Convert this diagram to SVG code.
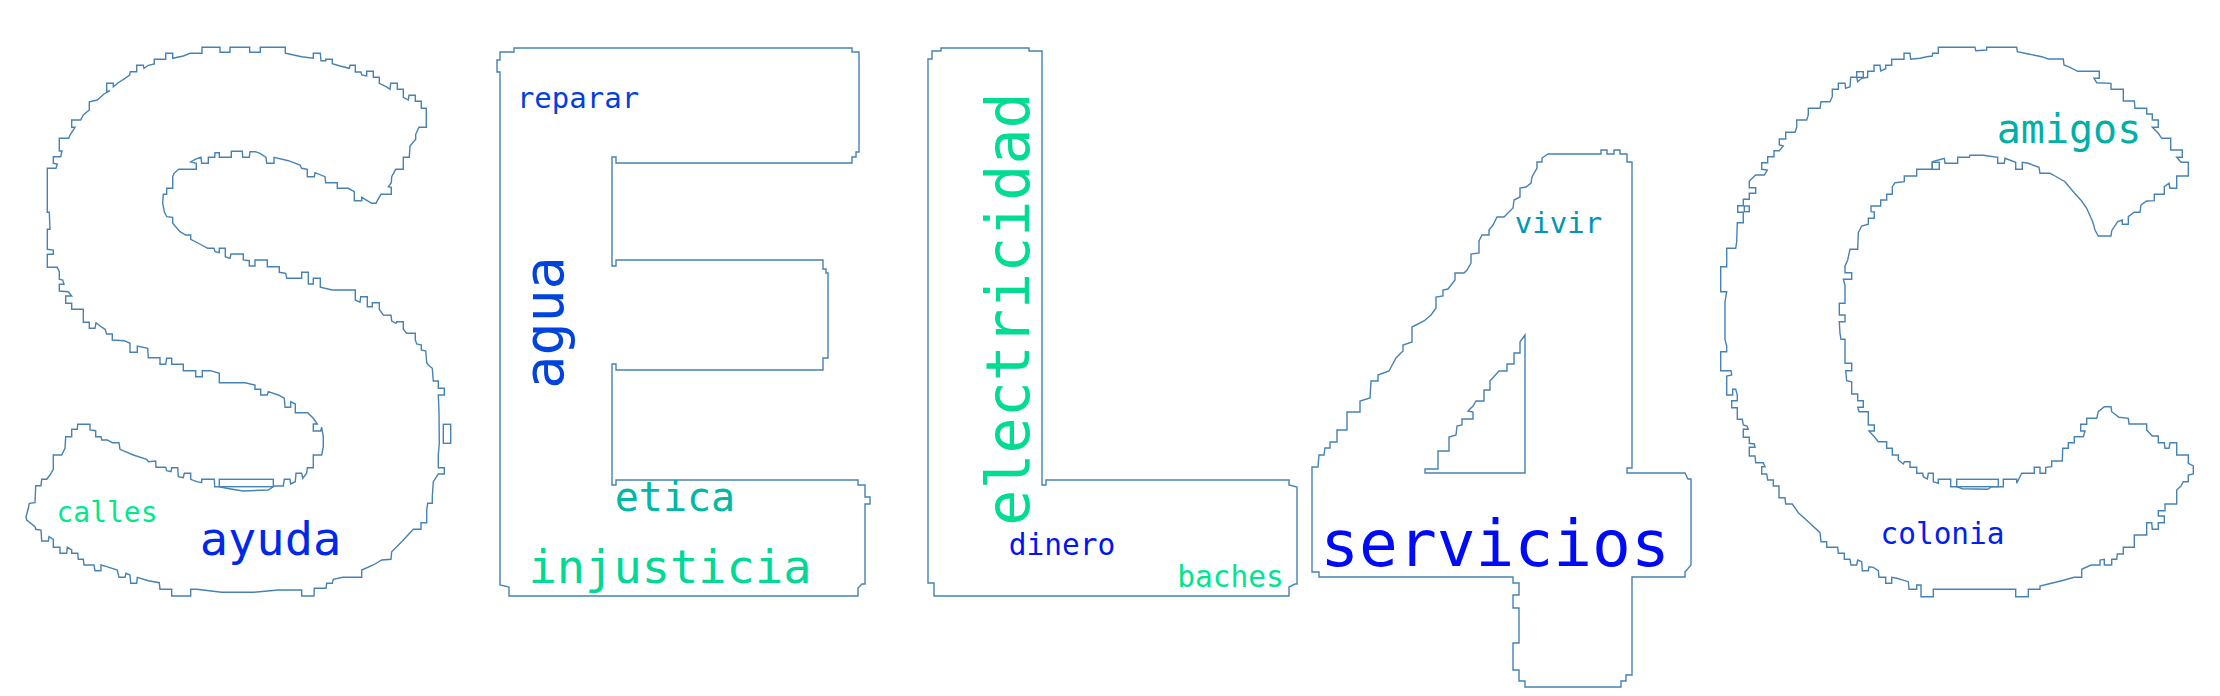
<svg xmlns="http://www.w3.org/2000/svg" width="2220" height="696" viewBox="0 0 2220 696">
<style>
.o{fill:none;stroke:#4682b4;stroke-width:1.4;stroke-linejoin:miter}
.w{font-family:"DejaVu Sans Mono","Liberation Mono",monospace;text-anchor:middle}
</style>
<rect x="0" y="0" width="2220" height="696" fill="#ffffff"/>
<g id="letter-S">
<path class="o" d="M202,47.3 L220,47.3 L220,52.3 L230,52.3 L230,47.3 L249.7,47.3 L249.7,52.3 L260.3,52.3 L260.3,47.3 L285.3,47.3 L285.3,53.3 L290.3,54.3 L301.7,56.7 L313.3,58.3 L313.3,53.3 L320.3,53.3 L321,60.7 L325.7,60.7 L325.7,59.3 L332.3,59.3 L332.3,63.7 L340,66 L349.3,68.3 L350,65.3 L355.3,65.3 L355.3,72 L361,72 L361.7,75 L366.7,76 L366.7,71.3 L373.3,71.3 L373.3,77.3 L379.3,77.3 L379.3,83.3 L386,86.7 L390,89.3 L390.7,83.3 L397.3,83.3 L397.3,89.3 L403.3,89.3 L403.3,97.3 L408.3,100 L409,95.3 L415.3,95.3 L415.3,101.3 L421.3,101.3 L421.3,108.3 L426.3,108.3 L426.3,127.3 L419,127.3 L415.7,134.3 L415.7,139.3 L410,146 L409.3,157.3 L403.3,157.3 L403.3,169.3 L395.7,169.3 L391.7,176.7 L391.3,182.7 L388.3,186.7 L391.3,187.3 L391.3,194.3 L381,194.3 L377.3,200.7 L376,203.3 L371.7,203.3 L361.7,197.3 L361.7,200.7 L354.3,200.7 L354.3,191.7 L348.3,188.3 L337.3,188.3 L337.3,182.7 L325.7,182.7 L325,176.7 L315,172.7 L314.3,176.7 L307.3,176.7 L307.3,169.3 L301.7,168.3 L300,165 L288.3,160.7 L274,157.3 L274,163.3 L266.7,163.3 L266,157.3 L260,153.3 L255.3,151.7 L250,151.7 L249.3,157.3 L242.7,157.3 L242.3,151.3 L231.3,151.3 L231.3,157.3 L219.3,157.3 L219.3,152.7 L215,152.7 L214.7,157.3 L208.3,157.3 L208.3,163.3 L201.7,163.3 L201,157.3 L195,159.3 L190.7,162 L196.3,163.3 L196.3,169.3 L178.7,169.3 L174,173.3 L172.7,176.7 L172.7,188.3 L166.7,188.3 L166.7,194.3 L163.3,194.3 L162.7,203.3 L164.3,211.7 L166.7,216.7 L172.7,217.3 L172.7,223.3 L180,231.7 L185.7,235 L190.7,235 L190.7,239.3 L201.7,245 L207.7,248.3 L214,248.3 L215,251.7 L219.3,252.7 L219.3,248.3 L225.3,248.3 L225.3,256.7 L230,258.3 L231,254 L243.3,254 L243.3,260 L249.3,260.7 L249.3,266 L255,266 L255,260 L267.3,260 L267.3,266.7 L279.3,266.7 L279.3,272.3 L285.7,273.3 L286.7,278.3 L301.7,278.3 L301.7,272.3 L308.3,272.3 L308.3,284 L313.3,284 L313.3,278.3 L320.3,278.3 L320.3,287.3 L332.3,290 L355.3,290 L355.3,300 L360,302.3 L360.7,296.7 L367.3,296.7 L367.3,306.7 L372.3,306.7 L372.3,302.7 L379.3,302.7 L379.3,309.3 L383.3,315 L391,315.3 L391.7,321 L396,323.3 L396.7,321.7 L403.3,321.7 L403.3,329.3 L406.7,333.3 L415.3,333.3 L415.3,340 L416.7,344 L421.3,345 L421.3,350 L425.7,351 L426.7,362.7 L428.3,365 L432.3,368.3 L433.3,381 L438.3,381 L438.3,388.3 L444.3,388.3 L444.3,395 L438.3,395 L439,411.7 L439.3,443.3 L438.3,455 L438.3,467.7 L444.3,467.7 L444.3,474 L438.3,474 L433.3,481.7 L432.3,496.7 L432.3,503.3 L427.7,503.3 L426.7,510 L426.7,522.7 L421,522.7 L421,529.3 L413.3,529.3 L401.7,541.7 L391.7,551.7 L391,559.3 L381.7,560 L373.3,565 L361.7,570 L361.7,577.3 L342.7,577.3 L333.3,579.3 L332.3,583.3 L326.7,583.3 L326,588.3 L314.3,588.3 L314,596 L301.7,596 L301.7,590 L278.3,590 L253.3,592.3 L221.7,592.3 L196.7,589.3 L190.7,589.3 L190.7,596 L171.7,596 L171.7,589.3 L160,589.3 L159.3,582.7 L148.3,580.7 L137.3,577.3 L136.7,583.3 L130.7,583.3 L130,575 L126,573.3 L125,577.3 L119,577.3 L117.3,570 L106.7,566.7 L101,565 L101,570.7 L95,570.7 L94,565 L84,565 L83.3,559.3 L78.3,559.3 L77.7,553.3 L71.7,553.3 L71.7,550 L67.3,547.3 L66.7,553.3 L60,553.3 L60,547.3 L53.3,547.3 L53.3,539.3 L49,536.7 L48.3,541 L41.7,541 L41,530 L35.7,529.3 L35,526.7 L26.7,520 L26,516.7 L28.3,508.3 L29.3,503.3 L35,502.7 L35.7,485.7 L41,485.7 L41.7,479.3 L46.7,479.3 L50,475 L53.3,469.3 L53.3,455 L61.7,455 L65,448.3 L65.7,436.7 L71.7,436.7 L71.7,429.3 L77.3,429.3 L77.7,424.3 L90,424.3 L90,430 L95.7,430.7 L95.7,436.7 L101,436.7 L101.7,440 L107.3,440 L112.3,442.7 L119,442.7 L120,449.3 L133.3,455 L146.7,459.3 L148.3,461.7 L155.7,461 L156,467.3 L165.7,467.3 L166.7,470.7 L171,471.7 L171.7,467.7 L177.7,467.7 L178.3,476.7 L183.3,477.7 L184.3,473.3 L190.7,473.3 L190.7,479.3 L196.7,481.7 L201.7,482.7 L201.7,479.3 L214.3,479.3 L214.7,486.7 L219.3,486.7 L226.7,488.3 L242.7,491 L268.3,490 L274.3,486 L283.3,486 L284.3,479.3 L290,479.3 L290.7,484 L295.3,481.7 L296,473.3 L301.7,473.3 L302.7,478.3 L306.7,473.3 L307.3,467.7 L313.3,467.7 L313.3,455 L321.7,455 L323.3,446.7 L323.3,436.7 L321.7,427.3 L320.7,431 L313.3,431 L313.3,424 L317.3,424 L313.3,418.3 L307.7,412.7 L295.3,412.7 L295.3,404 L290.7,401.7 L290.7,407.3 L285,407.3 L284.3,398.3 L278.3,395 L268.3,391.7 L267.3,395 L260.7,395 L260.7,389.3 L255,389.3 L255,385 L245,382.7 L219.3,382.7 L219.3,373.3 L210.7,370.7 L202.3,370.7 L202.3,376.7 L195.7,376.7 L195.7,370.7 L183.3,370.7 L183.3,364.3 L171.7,364.3 L171.7,358.3 L166.7,358.3 L165.7,364.3 L160,364.3 L160,357.7 L148.3,357.7 L147.7,348.3 L137.3,346 L137.3,352.3 L130,352.3 L130,343.3 L124.3,340.7 L112.3,340 L112.3,334 L106.7,334 L105,329.3 L100,326 L96,322.7 L95,328.3 L89.3,328.3 L89.3,322.3 L83.3,322.3 L83.3,309.3 L71.7,309.3 L71.7,303.3 L65.7,303.3 L65.7,296 L71.7,296 L68.3,291.7 L59.3,291 L59.3,284.3 L64,284.3 L62.7,280 L59.3,279.3 L59.3,271.7 L57.3,267.3 L47.3,267.3 L47.3,254.3 L53.3,254.3 L53.3,250 L47.3,249.3 L47.3,229.3 L50,229.3 L49.3,212.3 L47.3,212.3 L47.3,168.3 L56,168.3 L57.3,164 L53.3,163.3 L53.3,156.7 L60.7,156.7 L62,151 L59.3,151 L59.3,138.3 L68.7,138.3 L70,135 L75,127.3 L71.7,127.3 L71.7,120 L80.7,120 L83.3,115 L89.3,110 L89.3,101.7 L97.3,100 L104,94 L110,90.7 L106.7,91.7 L106.7,83.3 L113.3,83.3 L113.3,86.7 L118.3,82.7 L125,78.3 L129.7,75 L130.3,71.7 L136.7,71.7 L136.7,65.3 L143.3,65.3 L144,68.3 L148.3,65.3 L154.3,64 L154.3,59.3 L165.7,59.3 L165.7,53.3 L172.7,53.3 L172.7,58.3 L183.3,56 L190,53.3 L202,53.3 Z"/>
<rect class="o" x="443.3" y="424.3" width="7.4" height="19"/>
<rect class="o" x="219.3" y="479.3" width="54" height="7.4"/>
</g>
<g id="letter-E">
<path class="o" d="M514,48 L852,48 L852,52 L859,52 L859,152 L856,152 L856,157 L852,157 L852,163 L616,163 L616,157 L612,157 L612,266 L616,266 L616,260 L823,260 L823,269 L826,269 L826,273 L828,273 L828,358 L823,358 L823,370 L616,370 L616,364 L612,364 L612,485 L616,485 L616,480 L858,480 L858,485 L865,485 L865,497 L870,497 L870,504 L865,504 L865,584 L862,584 L858,588 L858,596 L509,596 L509,587 L500,585 L500,72 L497,72 L497,60 L500,60 L500,52 L514,52 Z"/>
</g>
<g id="letter-L">
<path class="o" d="M941,48 L1029,48 L1029,51 L1042,51 L1042,485 L1046,485 L1046,480 L1289,480 L1289,485 L1297,487 L1297,584 L1295,584 L1289,587 L1289,596 L934,596 L934,583 L928,583 L928,59 L932,59 L932,51 L941,51 Z"/>
</g>
<g id="letter-4">
<path class="o" d="M1548,154 L1601,154 L1601,150 L1607,150 L1607,154 L1614,154 L1614,150 L1620,150 L1620,154 L1627,154 L1627,162 L1632,162 L1632,468 L1627,468 L1627,473 L1685,473 L1688,479 L1691,479 L1691,565 L1685,572 L1685,577 L1632,577 L1632,675 L1626,675 L1626,681 L1621,681 L1621,687 L1525,687 L1525,681 L1519,681 L1519,670 L1513,670 L1513,643 L1519,643 L1519,608 L1513,608 L1513,595 L1519,595 L1519,583 L1513,583 L1513,577 L1319,577 L1319,572 L1312,572 L1312,467 L1318,467 L1319,455 L1324,455 L1325,448 L1330,448 L1330,442 L1337,442 L1337,430 L1347,430 L1347,412 L1360,412 L1360,401 L1370,398 L1371,381 L1378,381 L1378,375 L1389,371 L1396,358 L1403,351 L1403,345 L1412,342 L1412,327 L1424,321 L1431,315 L1436,308 L1436,297 L1443,296 L1443,290 L1448,289 L1455,280 L1455,273 L1464,273 L1467,270 L1471,263 L1471,254 L1479,253 L1479,241 L1482,235 L1489,235 L1489,230 L1493,225 L1497,217 L1504,217 L1513,208 L1514,200 L1520,197 L1520,188 L1526,187 L1531,183 L1532,177 L1537,168 L1537,162 L1542,162 L1542,158 Z"/>
<path class="o" d="M1525,335 L1525,473 L1425,473 L1425,469 L1438,469 L1438,451 L1449,451 L1449,437 L1456,435 L1457,426 L1462,425 L1462,419 L1473,419 L1473,412 L1468,411 L1473,406 L1476,401 L1484,401 L1484,390 L1490,390 L1490,381 L1499,371 L1507,371 L1507,364 L1514,364 L1514,353 L1520,353 L1520,342 Z"/>
</g>
<g id="letter-C">
<path class="o" d="M1938.3,47.3 L1975,47.3 L1975.7,50.7 L1986.7,50 L1986.7,47.3 L2016.7,47.3 L2017.3,51.7 L2028.3,54 L2041.7,56.7 L2048.3,59 L2063.3,59 L2064,65 L2070,67.3 L2077.7,71.3 L2099.3,71.3 L2099.3,78.3 L2094,78.3 L2096.7,82.7 L2111,83.3 L2111,89.3 L2123.3,89.3 L2123.3,101 L2134.3,101 L2135,108.3 L2146.7,108.3 L2146.7,114 L2152.3,114 L2152.3,120 L2158.3,120 L2158.3,127.3 L2152.3,127.3 L2158.3,133.3 L2161.7,138.3 L2170.7,138.3 L2170.7,150 L2182.3,150 L2182.3,157.3 L2176.7,157.3 L2181,162.3 L2188.3,162.3 L2188.3,176 L2176.7,176 L2176.7,188.3 L2170,188.3 L2169,183.3 L2164.3,186.7 L2164.3,194.3 L2154.3,194.3 L2154.3,200.7 L2146.7,201 L2141,205 L2140,212.3 L2134.3,212.3 L2128.3,216.7 L2128.3,224.3 L2122.3,224.3 L2122.3,220 L2117.7,221.7 L2111.7,230.7 L2111,236 L2098.3,236 L2095,230 L2092.7,221.7 L2086.7,208.3 L2081.7,201 L2073.3,191.7 L2065,181.7 L2055,176 L2050,173.3 L2040,173.3 L2039,167.3 L2028.3,163.3 L2022.3,162.3 L2022.3,169.3 L2015.7,169.3 L2015.7,162.3 L2005,158.3 L2004.3,163.3 L1997.7,163.3 L1997.7,157.3 L1983.3,155.3 L1970,155.3 L1969.3,157.3 L1957.7,157.3 L1957.7,163.3 L1945,163.3 L1944.3,158.3 L1938.3,160 L1932.3,161.7 L1932.3,169.3 L1927.7,169.3 L1916.7,169.3 L1916.7,176 L1904.3,176 L1904.3,181.7 L1895,182.7 L1892.3,186.7 L1892.3,194.3 L1886.7,194.3 L1886.7,200 L1880.7,200 L1880.7,206 L1871,206 L1871,211.7 L1874.3,212 L1874.3,218.3 L1868.3,218.3 L1868.3,224.3 L1861.7,226 L1858.3,232.7 L1857.7,249.3 L1850,249.3 L1847.7,260 L1845,266 L1845,272.7 L1851.7,272.7 L1851.7,279.3 L1843.3,279.3 L1845,285 L1845,303.3 L1839.3,303.3 L1839.3,315 L1845,315 L1845,321.7 L1839.3,321.7 L1840,333.3 L1841,339.3 L1845,339.3 L1845,363.3 L1851.7,363.3 L1851.7,370.7 L1845.7,370.7 L1846.7,380.7 L1851.7,381.7 L1851.7,394 L1857.7,394 L1857.7,400.7 L1863.3,400.7 L1863.3,407.3 L1857.7,407.3 L1859,411.7 L1868.3,411.7 L1868.3,425 L1874.3,425 L1874.3,431 L1869,431 L1874.3,436.7 L1878.3,441.7 L1886.7,441.7 L1886.7,448.3 L1892.3,448.3 L1892.3,455 L1898.3,455 L1898.3,460 L1903.3,464 L1904.3,461.7 L1910,461.7 L1910,467.3 L1916.7,467.3 L1916.7,473.3 L1922.7,473.3 L1923.3,476.7 L1927.3,479 L1928.3,473.3 L1933.3,473.3 L1933.3,481.7 L1938.3,483.3 L1938.3,479.3 L1950.7,479.3 L1950.7,486.7 L1956.7,486.7 L1962.3,488.7 L1987.7,489.3 L1991.7,486.7 L2003.3,486.7 L2003.3,479.3 L2016.7,479.3 L2016.7,483.3 L2021.7,473.3 L2034.3,473.3 L2034.3,467.3 L2040,467.3 L2040,473.3 L2045.7,473.3 L2045.7,467.3 L2051.7,466.7 L2051.7,461 L2062.3,461 L2062.7,448.3 L2068.3,448.3 L2068.3,442.7 L2074.3,442.7 L2074.3,436.7 L2083.3,436.7 L2085,431 L2080.7,431 L2080.7,424.3 L2086.7,424.3 L2086.7,418.3 L2096.7,418.3 L2098.3,411.7 L2104.3,406.7 L2111,406.7 L2111.7,411.7 L2119,417.3 L2128.3,418.3 L2129,424 L2146.7,424 L2146.7,430 L2152.3,436 L2158.3,436 L2158.3,442.7 L2164.3,442.7 L2165,448.3 L2169,448.3 L2170,442.7 L2176.7,442.7 L2176.7,455 L2188.3,455 L2188.3,463.3 L2193.3,466 L2193.3,474 L2188.3,475 L2188.3,481.7 L2183.3,481.7 L2181,486 L2176.7,490 L2176.7,504 L2165,504 L2165,510.7 L2158.3,510.7 L2158.3,516 L2164.3,516 L2164.3,522.7 L2158.3,522.7 L2158.3,529.3 L2152.3,529.3 L2151.7,522.7 L2146.7,522.7 L2146.7,535 L2134.3,535 L2134.3,547.3 L2123.3,547.3 L2123.3,554 L2117.3,554 L2116.7,559.3 L2111.7,559.3 L2111.7,565 L2104.3,565 L2104.3,559.3 L2100,560 L2100,565 L2091,565 L2081.7,569.3 L2081.7,577.3 L2074.3,577.3 L2061.7,580.7 L2048.3,584 L2040,586 L2040,589.3 L2028.3,589.3 L2028.3,596.7 L2015.7,596.7 L2015.7,589.3 L1933.3,589.3 L1933.3,596.7 L1921,596.7 L1921,585 L1916.7,585 L1916.7,589.3 L1909,589.3 L1908.3,581.7 L1896.7,578.3 L1891.7,577.3 L1891.7,583.3 L1885.7,583.3 L1885.7,577.3 L1879,577.3 L1878.3,570.7 L1873.3,567.3 L1869,566.7 L1868.3,570.7 L1862.3,570.7 L1861.7,561.7 L1857.7,560 L1856.7,565 L1851,565 L1850,559.3 L1844.3,559.3 L1844.3,553.3 L1838.3,553.3 L1837.7,547.3 L1826.7,547.3 L1826.7,541.7 L1821,541.7 L1820,532.7 L1808.3,521.7 L1798.3,512.7 L1792.3,504 L1785.7,504 L1785,497.7 L1779,497.7 L1779,486 L1773.3,486 L1773.3,480 L1767.7,480 L1766.7,474 L1761.7,474 L1761.7,466.7 L1765,466.7 L1763.3,462.7 L1755.7,462.7 L1755,456 L1749.3,456 L1749.3,447.3 L1755,447.3 L1754.3,444 L1749.3,443.3 L1749.3,437.3 L1743.3,437.3 L1743.3,429.3 L1748.3,429.3 L1747,426 L1743.3,425 L1742.3,419.3 L1737.3,419.3 L1737.3,407.7 L1731.7,407.7 L1731.7,400.7 L1737.3,400.7 L1737.3,395 L1735.7,389.3 L1732.7,389.3 L1732.7,395 L1726.7,395 L1726.7,376 L1731.7,375 L1731,370.7 L1720.7,370.7 L1720.7,351.7 L1726.7,351.7 L1726.7,346 L1725,339.3 L1725,301.7 L1726.7,291.7 L1720.7,291.7 L1720.7,266.7 L1726.7,266.7 L1726.7,248.3 L1735.7,248.3 L1736.7,241.7 L1737.3,222.7 L1743.3,222.7 L1743.3,212.3 L1737.7,212.3 L1737.7,205.7 L1743.3,205.7 L1743.3,199.3 L1749.3,199.3 L1749.3,193.3 L1755.7,193.3 L1755.7,187.7 L1749.3,187.7 L1749.3,181 L1755.7,175 L1764.3,175 L1767.3,170 L1761.7,169.3 L1761.7,162.7 L1767.7,162.7 L1767.7,156.7 L1774,156.7 L1774,150.7 L1779.3,150.7 L1783.3,146 L1779.3,145 L1779.3,139 L1785.7,139 L1785.7,132.3 L1795,132.3 L1796.7,127.3 L1796.7,120 L1806.7,120 L1808.3,115 L1808.3,108.3 L1820,108.3 L1821,101.7 L1830,101.7 L1832.3,96.7 L1832.3,89.3 L1838.3,89.3 L1838.3,83.3 L1845,83.3 L1845.7,88.3 L1850,86.7 L1850.7,77.3 L1856.7,77.3 L1857.7,81.7 L1861.7,78.3 L1867.7,77.3 L1867.7,71.3 L1874,71.3 L1874,65.3 L1880,65.3 L1880.7,71 L1885.7,68.7 L1885.7,65.3 L1891.7,65.3 L1891.7,59.3 L1904,59.3 L1904,53.3 L1910,53.3 L1910.7,59.3 L1920,58.3 L1926.7,56.7 L1932.3,56 L1932.7,53.3 L1938.3,53.3 Z"/>
<rect class="o" x="1932.3" y="162.3" width="7" height="7"/>
<rect class="o" x="1856.7" y="71.7" width="6.6" height="5.6"/>
<rect class="o" x="1744.3" y="206" width="5" height="5.7"/>
<rect class="o" x="1956.7" y="479.3" width="41.6" height="7.4"/>
</g>
<g id="words">
<text class="w" x="578" y="108" font-size="29" fill="#0040df">reparar</text>
<text class="w" transform="translate(563,322.5) rotate(-90)" font-size="55" fill="#0044dd">agua</text>
<text class="w" x="675" y="511" font-size="40" fill="#00b8a4">etica</text>
<text class="w" x="670" y="583" font-size="47" fill="#00d896">injusticia</text>
<text class="w" x="107" y="521.5" font-size="28" fill="#00ea8a">calles</text>
<text class="w" x="270.5" y="554.5" font-size="47" fill="#0028eb">ayuda</text>
<text class="w" transform="translate(1029,309) rotate(-90)" font-size="60" fill="#00dc92">electricidad</text>
<text class="w" x="1062" y="554.7" font-size="29.5" fill="#0014f5">dinero</text>
<text class="w" x="1230.5" y="587" font-size="29.5" fill="#00e68c">baches</text>
<text class="w" x="1495" y="566" font-size="64.5" fill="#000afa">servicios</text>
<text class="w" x="1558.5" y="232.7" font-size="29" fill="#0096b4">vivir</text>
<text class="w" x="2069" y="143" font-size="40" fill="#00b0a8">amigos</text>
<text class="w" x="1942.5" y="544" font-size="29.4" fill="#0020ef">colonia</text>
</g>
</svg>
